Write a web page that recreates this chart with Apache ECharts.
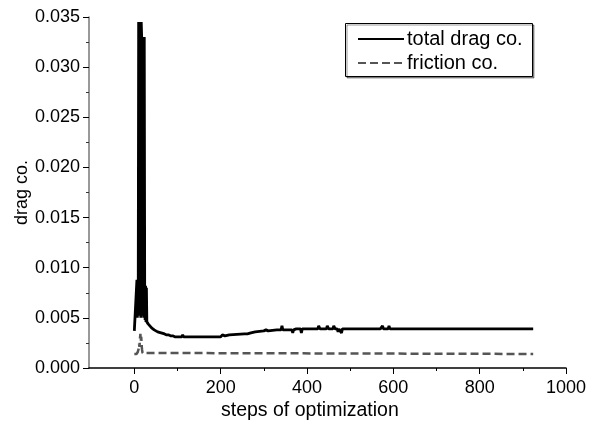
<!DOCTYPE html>
<html>
<head>
<meta charset="utf-8">
<script src="https://cdn.jsdelivr.net/npm/echarts@6/dist/echarts.min.js"></script>
<style>html,body{margin:0;padding:0;background:#fff;}#c{width:595px;height:426px;}</style>
</head>
<body>
<div id="c"></div>
<script>
// ---- data ----
var xTickValues = [0, 200, 400, 600, 800, 1000];
var xMinorTickValues = [100, 300, 500, 700, 900];
var totalX = [0, 1, 2, 3, 4, 5, 6, 7, 8, 9, 10, 11, 12, 13, 14, 15, 16, 17, 18, 19, 20, 21, 22, 23, 24, 25, 26, 27, 28, 29, 30, 32, 34, 36, 38, 40, 43, 46, 50, 54, 58, 62, 66, 70, 75, 80, 85, 90, 95, 100, 110, 112, 114, 120, 160, 200, 204, 210, 214, 220, 255, 258, 262, 270, 280, 300, 305, 310, 330, 340, 342, 344, 350, 365, 367, 369, 375, 385, 387, 389, 400, 420, 425, 427, 430, 440, 445, 447, 450, 455, 460, 462, 465, 470, 472, 474, 478, 480, 482, 490, 570, 575, 577, 580, 588, 590, 592, 600, 700, 800, 924];
var totalY = [0.0037, 0.0036, 0.0037, 0.0036, 0.0037, 0.0037, 0.0088, 0.0050, 0.0087, 0.0052, 0.0345, 0.0060, 0.0345, 0.0055, 0.0345, 0.0050, 0.0345, 0.0330, 0.0052, 0.0330, 0.0055, 0.0330, 0.0050, 0.0330, 0.0082, 0.0048, 0.0082, 0.0046, 0.0080, 0.0046, 0.0045, 0.0044, 0.0043, 0.0042, 0.0041, 0.0040, 0.0039, 0.0038, 0.0037, 0.0036, 0.0035, 0.0035, 0.0034, 0.0034, 0.0033, 0.0033, 0.0032, 0.0032, 0.0031, 0.0031, 0.0031, 0.0033, 0.0031, 0.0031, 0.0031, 0.0031, 0.0033, 0.0032, 0.0033, 0.0033, 0.0034, 0.0035, 0.0034, 0.0035, 0.0036, 0.0037, 0.0038, 0.0037, 0.0038, 0.0038, 0.0042, 0.0038, 0.0038, 0.0038, 0.0035, 0.0038, 0.0039, 0.0039, 0.0035, 0.0039, 0.0039, 0.0039, 0.0039, 0.0042, 0.0039, 0.0039, 0.0039, 0.0042, 0.0039, 0.0039, 0.0039, 0.0042, 0.0039, 0.0039, 0.0036, 0.0039, 0.0039, 0.0035, 0.0039, 0.0039, 0.0039, 0.0042, 0.0039, 0.0039, 0.0039, 0.0042, 0.0039, 0.0039, 0.0039, 0.0039, 0.0039];
var frictionX = [0, 5, 8, 10, 11, 12, 13, 14, 15, 16, 17, 18, 19, 20, 22, 924];
var frictionY = [0.0014, 0.0014, 0.0016, 0.0019, 0.0024, 0.0021, 0.0029, 0.0034, 0.0027, 0.0031, 0.0022, 0.0018, 0.0015, 0.0014, 0.0014, 0.0014];
var seriesNames = ['total drag co.', 'friction co.'];

function pairs(xs, ys) { return xs.map(function (x, i) { return [x, ys[i]]; }); }

var FONT = 'Liberation Sans, Arial, sans-serif';
var chart = echarts.init(document.getElementById('c'), null, { renderer: 'canvas' });
chart.setOption({
  animation: false,
  backgroundColor: '#fff',
  grid: { left: 89, right: 29, top: 17, bottom: 58, containLabel: false },
  legend: {
    left: 357, top: 29, orient: 'vertical',
    padding: 0,
    itemGap: 4, itemWidth: 46, itemHeight: 18,
    itemStyle: { opacity: 0 },
    textStyle: { fontFamily: FONT, fontSize: 20, color: '#000', padding: [0, 0, 0, -2] },
    data: seriesNames
  },
  xAxis: [{
    type: 'value', min: -105, max: 1000,
    axisLine: { onZero: false, lineStyle: { color: '#000', width: 1.5 } },
    axisTick: { show: true, customValues: xTickValues, length: 6, lineStyle: { color: '#000', width: 1 } },
    axisLabel: { customValues: xTickValues, fontFamily: FONT, fontSize: 18, color: '#000', margin: 11,
      formatter: function (v) { return String(v); } },
    splitLine: { show: false }
  }, {
    type: 'value', min: -105, max: 1000, position: 'bottom',
    axisLine: { show: false, onZero: false },
    axisTick: { show: true, customValues: xMinorTickValues, length: 3, lineStyle: { color: '#000', width: 1 } },
    axisLabel: { show: false },
    splitLine: { show: false }
  }],
  yAxis: {
    type: 'value', min: 0, max: 0.035, interval: 0.005,
    name: 'drag co.', nameLocation: 'middle', nameGap: 58, nameRotate: 90,
    nameMoveOverlap: false,
    nameTextStyle: { fontFamily: FONT, fontSize: 18, color: '#000' },
    axisLine: { show: true, onZero: false, lineStyle: { color: '#777', width: 1.5 } },
    axisTick: { show: true, length: 6, lineStyle: { color: '#000', width: 1 } },
    minorTick: { show: true, splitNumber: 2, length: 3, lineStyle: { color: '#333', width: 1 } },
    axisLabel: { fontFamily: FONT, fontSize: 18, color: '#000', margin: 9,
      formatter: function (v) { return v.toFixed(3); } },
    splitLine: { show: false }
  },
  graphic: [{
    type: 'rect', left: 345, top: 23, z: 0,
    shape: { width: 187, height: 53 },
    style: { fill: '#fff', stroke: '#000', lineWidth: 1,
      shadowColor: 'rgba(0,0,0,0.4)', shadowOffsetX: 1.5, shadowOffsetY: 1.5, shadowBlur: 0 }
  }, {
    type: 'text', left: 221, top: 401,
    style: { text: 'steps of optimization', fontFamily: FONT, fontSize: 19.5, fill: '#000' }
  }],
  series: [{
    name: seriesNames[0], type: 'line', xAxisIndex: 0,
    data: pairs(totalX, totalY), showSymbol: false, symbol: 'none',
    lineStyle: { color: '#000', width: 2.8 }, itemStyle: { color: '#000' }, z: 3
  }, {
    name: seriesNames[1], type: 'line', xAxisIndex: 0,
    data: pairs(frictionX, frictionY), showSymbol: false, symbol: 'none',
    lineStyle: { color: '#555', width: 2.5, type: [8, 4] }, itemStyle: { color: '#555' }, z: 2
  }]
});
</script>
</body>
</html>
